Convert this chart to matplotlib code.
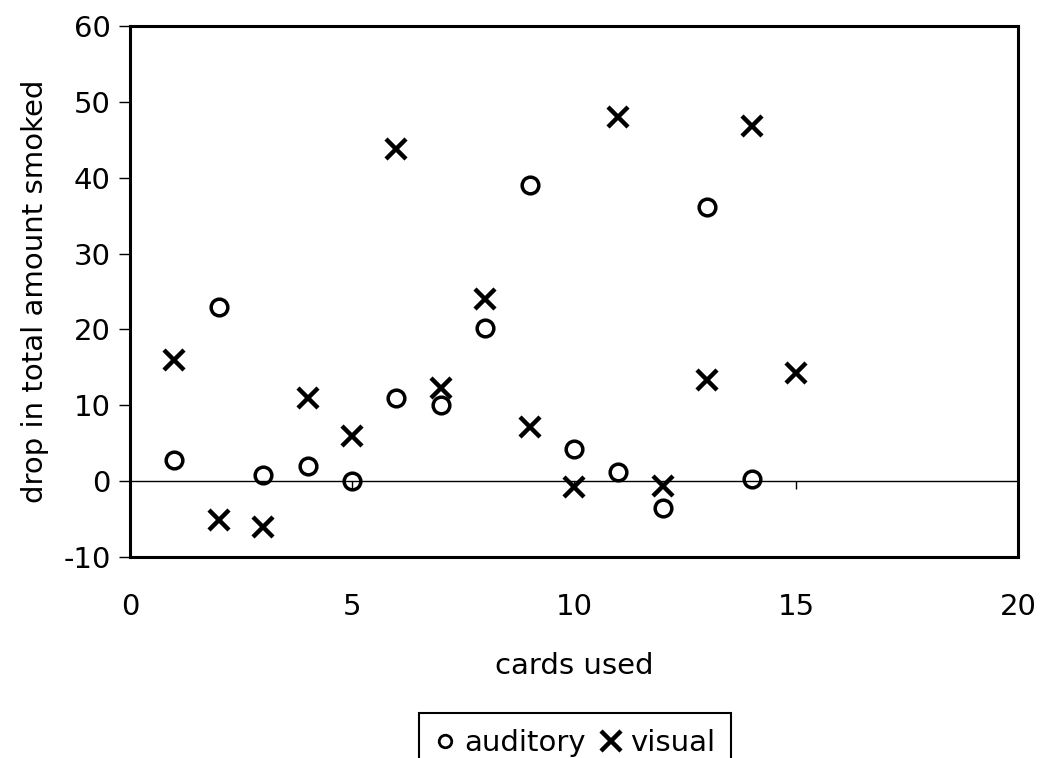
import numpy as np
import matplotlib
matplotlib.use('Agg')
from matplotlib import pyplot as plt

# cards used vs drop in total amount smoked
auditory_cards = [1, 2, 3, 4, 5, 6, 7, 8, 9, 10, 11, 12, 13, 14]
auditory_drop = [2.8, 23, 0.8, 2, 0, 11, 10, 20.2, 39, 4.2, 1.2, -3.5, 36.2, 0.3]

visual_cards = [1, 2, 3, 4, 5, 6, 7, 8, 9, 10, 11, 12, 13, 14, 15]
visual_drop = [16, -5.1, -6, 11, 5.9, 43.8, 12.3, 24, 7.2, -0.8, 48, -0.6, 13.3, 46.8, 14.3]

x_ticks = [0, 5, 10, 15, 20]
y_ticks = [-10, 0, 10, 20, 30, 40, 50, 60]

plt.rcParams['font.family'] = 'DejaVu Sans'
plt.rcParams['axes.unicode_minus'] = False
fs = 21

fig = plt.figure(figsize=(10.43, 7.58), dpi=100)
ax = fig.add_axes([0.1246, 0.2652, 0.8514, 0.7005])

ax.plot(auditory_cards, auditory_drop, linestyle='none', marker='o', markersize=12,
        markerfacecolor='none', markeredgecolor='black', markeredgewidth=2.5,
        label='auditory', zorder=3)
ax.plot(visual_cards, visual_drop, linestyle='none', marker='x', markersize=14,
        markeredgecolor='black', markeredgewidth=3.2, label='visual', zorder=3)

ax.set_xlim(0, 20)
ax.set_ylim(-10, 60)
ax.set_xticks(x_ticks)
ax.set_yticks(y_ticks)
ax.tick_params(axis='x', length=0, pad=26, labelsize=fs)
ax.tick_params(axis='y', direction='out', length=8, width=1, pad=6, labelsize=fs)
for s in ax.spines.values():
    s.set_linewidth(2.2)

# horizontal axis line crossing at y = 0, ticks pointing down
ax2 = ax.twiny()
ax2.set_xlim(0, 20)
ax2.set_xticks(x_ticks)
ax2.xaxis.set_ticks_position('bottom')
ax2.spines['bottom'].set_position(('data', 0))
ax2.spines['bottom'].set_linewidth(1.0)
for name in ['top', 'left', 'right']:
    ax2.spines[name].set_visible(False)
ax2.tick_params(axis='x', direction='out', length=6, width=1, labelbottom=False, labeltop=False)
ax2.set_zorder(ax.get_zorder() - 1)
ax.patch.set_visible(False)

ax.set_xlabel('cards used', fontsize=fs, labelpad=22)
ax.set_ylabel('drop in total amount smoked', fontsize=fs, labelpad=10)

leg = fig.legend(loc='upper center', bbox_to_anchor=(575 / 1043, 1 - 713 / 758), ncol=2,
                 fontsize=fs, frameon=True, fancybox=False, framealpha=1,
                 handlelength=0.7, handletextpad=0.3, columnspacing=0.5,
                 borderpad=0.55, borderaxespad=0)
leg.get_frame().set_edgecolor('black')
leg.get_frame().set_linewidth(1.5)
# smaller circle, full-size cross in the key
leg.legend_handles[0].set_markersize(9)
leg.legend_handles[0].set_markeredgewidth(2)
leg.legend_handles[1].set_markersize(15)

fig.savefig('out.png', dpi=100)
